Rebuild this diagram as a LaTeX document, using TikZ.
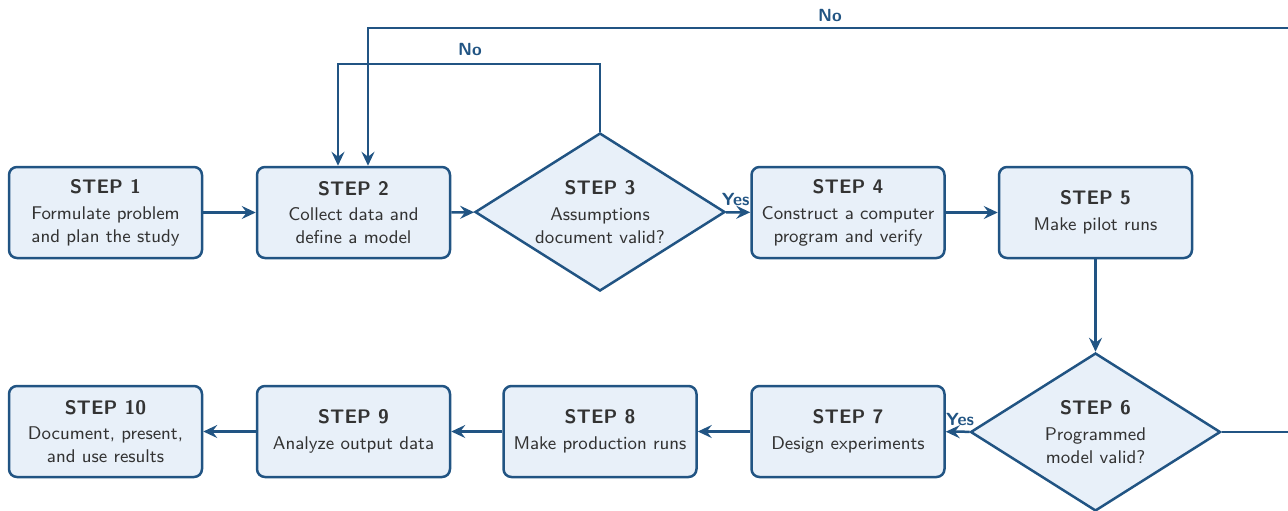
\documentclass[tikz,border=0pt]{standalone}
\usepackage{tikz}
\usetikzlibrary{calc, positioning, shapes.geometric, arrows.meta}
\definecolor{flowline}{HTML}{215483}
\definecolor{flowfill}{HTML}{E8F0F9}
\definecolor{flowtext}{HTML}{333333}
\newcommand{\StepText}[2]{{\bfseries\fontsize{9.8}{11}\selectfont STEP #1}\\[1.4pt]#2}
\tikzset{
  stepbox/.style={draw=flowline, fill=flowfill, line width=1.25pt, rounded corners=4pt,
    minimum width=96.5pt, minimum height=45.5pt, align=center, text=flowtext,
    font=\sffamily\fontsize{9.2}{11.5}\selectfont},
  decision/.style={draw=flowline, fill=flowfill, line width=1.25pt, diamond, aspect=1.58,
    inner sep=0pt, minimum width=125pt, minimum height=79pt, align=center, text=flowtext,
    font=\sffamily\fontsize{9.2}{11.5}\selectfont},
  flow/.style={draw=flowline, line width=1.25pt, -{Stealth[length=7pt,width=6.5pt,inset=2.5pt]}},
  answer/.style={text=flowline, font=\sffamily\bfseries\fontsize{8.8}{10}\selectfont, inner sep=1pt}
}

\begin{document}
\begin{tikzpicture}[x=0.5pt,y=-0.5pt]
    \useasboundingbox (0,0) rectangle (1288,510);
    \clip (0,0) rectangle (1288,510);

    % first row
    \node[stepbox] (s1) at (105.5,212.5) {\StepText{1}{Formulate problem\\and plan the study}};
    \node[stepbox] (s2) at (353.5,212.5) {\StepText{2}{Collect data and\\define a model}};
    \node[decision] (s3) at (600,212) {\StepText{3}{Assumptions\\document valid?}};
    \node[stepbox] (s4) at (848,212.5) {\StepText{4}{Construct a computer\\program and verify}};
    \node[stepbox] (s5) at (1095.5,212.5) {\StepText{5}{Make pilot runs}};

    % second row
    \node[decision] (s6) at (1095.5,432) {\StepText{6}{Programmed\\model valid?}};
    \node[stepbox] (s7) at (848,431.5) {\StepText{7}{Design experiments}};
    \node[stepbox] (s8) at (600,431.5) {\StepText{8}{Make production runs}};
    \node[stepbox] (s9) at (353.5,431.5) {\StepText{9}{Analyze output data}};
    \node[stepbox] (s10) at (105.5,431.5) {\StepText{10}{Document, present,\\and use results}};

    % main flow
    \draw[flow] (s1) -- (s2);
    \draw[flow] (s2) -- (s3);
    \draw[flow] (s3) -- node[answer, above, pos=0.4, yshift=1.5pt] {Yes} (s4);
    \draw[flow] (s4) -- (s5);
    \draw[flow] (s5) -- (s6);
    \draw[flow] (s6) -- node[answer, above, pos=0.4, yshift=1.5pt] {Yes} (s7);
    \draw[flow] (s7) -- (s8);
    \draw[flow] (s8) -- (s9);
    \draw[flow] (s9) -- (s10);

    % feedback loops
    \coordinate (loopa) at (338,64);
    \coordinate (loopb) at (1310,28);
    \coordinate (in2a) at ([xshift=-7.75pt]s2.north);
    \coordinate (in2b) at ([xshift=7.25pt]s2.north);
    \draw[flow] (s3.north) |- (loopa) -- (in2a);
    \draw[flow] (s6.east) -| (loopb) -| (in2b);
    \node[answer] (noa) at (470,49) {No};
    \node[answer] (nob) at (830,15) {No};
\end{tikzpicture}
\end{document}
